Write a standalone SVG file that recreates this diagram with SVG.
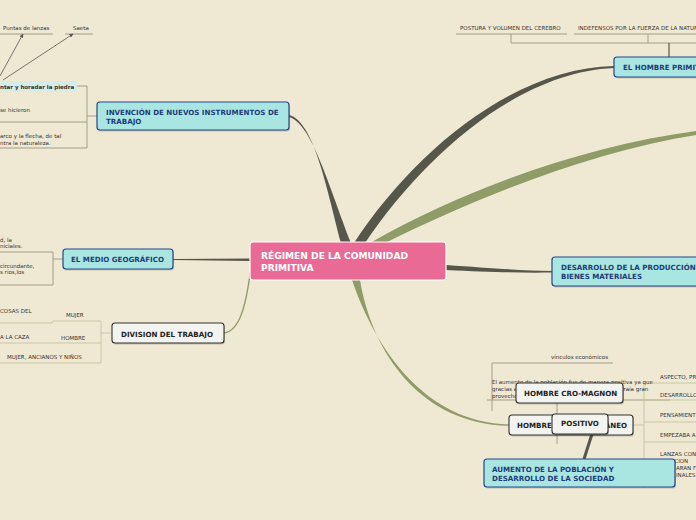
<svg xmlns="http://www.w3.org/2000/svg" width="696" height="520" viewBox="0 0 696 520">
<defs>
<marker id="arr" viewBox="0 0 10 10" refX="9" refY="5" markerWidth="5" markerHeight="5" orient="auto"><path d="M0,0 L10,5 L0,10 Z" fill="#555"/></marker>
<style>
.bg{fill:#EFE8D2}
.cy{fill:#A9E6E1;stroke:#24478A;stroke-width:1.2}
.wh{fill:#F3F3F0;stroke:#333;stroke-width:1.1}
.sh{fill:#000;opacity:0.18}
.ct{font-family:"DejaVu Sans",Verdana,sans-serif;font-weight:bold;font-size:7.1px;fill:#1E3B7A}
.wt{font-family:"DejaVu Sans",Verdana,sans-serif;font-weight:bold;font-size:7.1px;fill:#222}
.pt{font-family:"DejaVu Sans",Verdana,sans-serif;font-weight:bold;font-size:9.1px;fill:#fff}
.sm{font-family:"DejaVu Sans",Verdana,sans-serif;font-size:5.5px;fill:#333}
.smb{font-family:"DejaVu Sans",Verdana,sans-serif;font-size:5.5px;font-weight:bold;fill:#333}
.br{fill:none;stroke:#A39C88;stroke-width:1}
.brg{fill:none;stroke:#C6C9A4;stroke-width:1}
.dk{fill:#56564A}
.gr{fill:#8F9C68}
</style>
</defs>
<rect class="bg" x="0" y="0" width="696" height="520"/>

<g id="connectors">
<path class="dk" d="M341,243 C 327,190 314,121 289,115 L289,117 C 312,123 330,190 351,243 Z"/>
<path class="dk" d="M354,243 C 415,150 515,68 614,66 L614,68 C 518,72 424,156 365,243 Z"/>
<path class="gr" d="M370,243 C 470,186 590,145 696,131 L696,135 C 594,151 480,196 385,243 Z"/>
<path class="dk" d="M446,265 C 490,268 520,270.5 552,271 L552,272.5 C 520,273 490,272 446,270 Z"/>
<path class="dk" d="M250,258.5 L173,259 L173,260 L250,261 Z"/>
<path fill="none" stroke="#8F9C68" stroke-width="1.4" d="M251,268 C 246,305 240,331 224,333"/>
<path class="gr" d="M352,280 C 376,350 425,422 509,424.5 L509,425.8 C 420,424 372,352 360,280 Z"/>
<path fill="none" stroke="#56564A" stroke-width="3" d="M592,434 L584,459"/>

<path class="br" d="M77,86 H87 V148 M0,122 H87 M0,148 H87 M87,116 H97"/>
<path class="br" d="M0,252 H53 V285 H0 M53,259 H63"/>
<path class="brg" d="M0,323 H52 L53,321 H101 V363 H0 M0,343 H101 M101,333 H112"/>
<path class="br" d="M456,34 H567 M574,34 H696 M511,34 V43 H696 M648,34 V43"/>
<path fill="none" stroke="#56564A" stroke-width="1.2" d="M669,43 V57"/>
<path class="br" d="M0,34 H53 M65,34 H93"/>
<path fill="none" stroke="#555" stroke-width="0.8" marker-end="url(#arr)" d="M0,76 L23,34"/>
<path fill="none" stroke="#555" stroke-width="0.8" marker-end="url(#arr)" d="M3,80 L73,34"/>
<path class="br" d="M492,363 H613 M492,363 V411 M487,400 H670 M557,403 V444"/>
<path class="brg" d="M644,383 V488 M644,383 H696 M644,400 H696 M644,422 H696 M644,442 H696 M633,425 H644"/>
</g>

<g id="texts-left">
<text class="sm" x="3" y="30">Puntas de lanzas</text>
<text class="sm" x="73" y="30">Saeta</text>
<rect x="0" y="81" width="77" height="11" fill="#D6ECEA"/>
<text class="smb" x="0" y="89">ntar y horadar la piedra</text>
<text class="sm" x="0" y="112">se hicieron</text>
<text class="sm" x="0" y="138">arco y la flecha, de tal</text>
<text class="sm" x="0" y="145">ntra la naturaleza.</text>
<text class="sm" x="0" y="242">d, la</text>
<text class="sm" x="0" y="248">niciales.</text>
<text class="sm" x="0" y="268">circundante,</text>
<text class="sm" x="0" y="274">s ríos,los</text>
<text class="sm" x="0" y="313">COSAS DEL</text>
<text class="sm" x="66" y="317">MUJER</text>
<text class="sm" x="0" y="339">A LA CAZA</text>
<text class="sm" x="61" y="340">HOMBRE</text>
<text class="sm" x="7" y="359">MUJER, ANCIANOS Y NIÑOS</text>
</g>

<g id="texts-right">
<text class="sm" x="460" y="30">POSTURA Y VOLUMEN DEL CEREBRO</text>
<text class="sm" x="578" y="30">INDEFENSOS POR LA FUERZA DE LA NATURALEZA</text>
<text class="sm" x="551" y="359">vínculos económicos</text>
<text class="sm" x="492" y="384">El aumento de la población fue de manera positiva ya que</text>
<text class="sm" x="492" y="391">gracias a esto se permitía laborar más, lo cual traía gran</text>
<text class="sm" x="492" y="398">provecho</text>
<text class="sm" x="660" y="379">ASPECTO, PR</text>
<text class="sm" x="660" y="397">DESARROLLO</text>
<text class="sm" x="660" y="417">PENSAMIENT</text>
<text class="sm" x="660" y="437">EMPEZABA A</text>
<text class="sm" x="660" y="456">LANZAS CON</text>
<text class="sm" x="667" y="463">ECCION</text>
<text class="sm" x="676" y="470">ARAN F</text>
<text class="sm" x="676" y="477">INALES</text>
</g>

<g id="n-central">
<rect x="250" y="242" width="196" height="38" rx="3" fill="#EA6A96" stroke="#fff" stroke-width="1.2"/>
<text class="pt" x="261" y="259">RÉGIMEN DE LA COMUNIDAD</text>
<text class="pt" x="261" y="271">PRIMITIVA</text>
</g>

<g id="n-invencion">
<rect class="sh" x="98" y="103.5" width="192" height="28" rx="3"/>
<rect class="cy" x="97" y="102" width="192" height="28" rx="3"/>
<text class="ct" x="106" y="115">INVENCIÓN DE NUEVOS INSTRUMENTOS DE</text>
<text class="ct" x="106" y="124">TRABAJO</text>
</g>

<g id="n-hombre-primitivo">
<rect class="sh" x="615" y="58.5" width="100" height="20" rx="3"/>
<rect class="cy" x="614" y="57" width="100" height="20" rx="3"/>
<text class="ct" x="623" y="70">EL HOMBRE PRIMITIVO</text>
</g>

<g id="n-medio">
<rect class="sh" x="64" y="250.5" width="110" height="20" rx="3"/>
<rect class="cy" x="63" y="249" width="110" height="20" rx="3"/>
<text class="ct" x="71" y="262">EL MEDIO GEOGRÁFICO</text>
</g>

<g id="n-desarrollo">
<rect class="sh" x="553" y="258.5" width="160" height="29" rx="3"/>
<rect class="cy" x="552" y="257" width="160" height="29" rx="3"/>
<text class="ct" x="561" y="270">DESARROLLO DE LA PRODUCCIÓN</text>
<text class="ct" x="561" y="279">BIENES MATERIALES</text>
</g>

<g id="n-division">
<rect class="sh" x="113" y="324.5" width="112" height="20" rx="3"/>
<rect class="wh" x="112" y="323" width="112" height="20" rx="3"/>
<text class="wt" x="121" y="337">DIVISION DEL TRABAJO</text>
</g>

<g id="n-cromagnon">
<rect class="sh" x="517" y="384.5" width="107" height="20" rx="3"/>
<rect class="wh" x="516" y="383" width="107" height="20" rx="3"/>
<text class="wt" x="524" y="396">HOMBRE CRO-MAGNON</text>
</g>

<g id="n-hombre-neo">
<rect class="sh" x="510" y="416.5" width="124" height="20" rx="3"/>
<rect class="wh" x="509" y="415" width="124" height="20" rx="3"/>
<text class="wt" x="517" y="428">HOMBRE CONTEMPORÁNEO</text>
</g>

<g id="n-positivo">
<rect class="sh" x="553" y="415.5" width="56" height="20" rx="3"/>
<rect class="wh" x="552" y="414" width="56" height="20" rx="3"/>
<text class="wt" x="561" y="426">POSITIVO</text>
</g>

<g id="n-aumento">
<rect class="sh" x="485" y="460.5" width="191" height="28" rx="3"/>
<rect class="cy" x="484" y="459" width="191" height="28" rx="3"/>
<text class="ct" x="492" y="472">AUMENTO DE LA POBLACIÓN Y</text>
<text class="ct" x="492" y="481">DESARROLLO DE LA SOCIEDAD</text>
</g>
</svg>
